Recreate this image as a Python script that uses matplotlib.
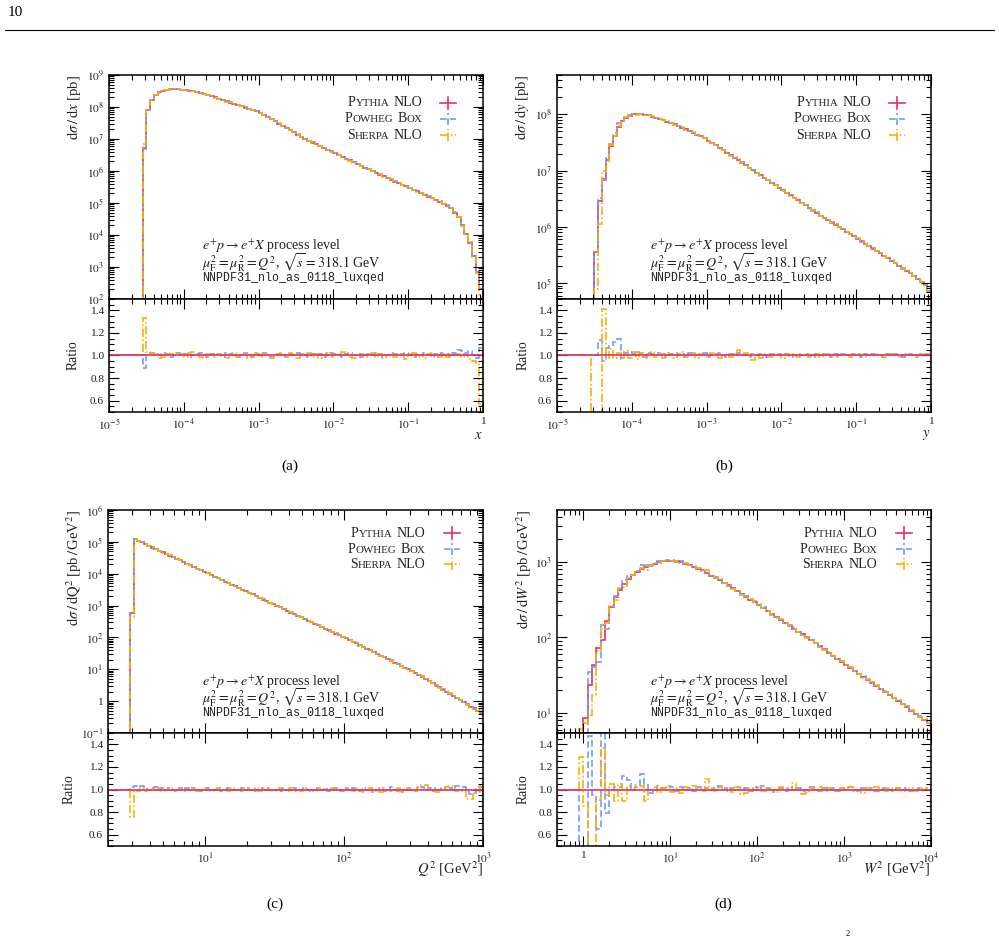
import numpy as np
import matplotlib
matplotlib.use("Agg")
import matplotlib.pyplot as plt
from matplotlib.ticker import LogLocator, MultipleLocator, FuncFormatter, NullFormatter, FormatStrFormatter
from matplotlib.offsetbox import TextArea, HPacker, AnchoredOffsetbox

plt.rcParams["font.family"] = "serif"
plt.rcParams["font.serif"] = ["Liberation Serif", "DejaVu Serif"]
plt.rcParams["mathtext.fontset"] = "stix"

# ---- data (log10 of the Pythia cross section, ratios to Pythia) ----
# (a) d sigma / dx, 20 bins per decade starting at x = 10^-4.55
x_edges = 10 ** np.linspace(-4.55, 0.0, 92)
pythia_x = [6.73, 7.90, 8.22, 8.38, 8.46, 8.51, 8.53, 8.55, 8.55, 8.55,
            8.54, 8.53, 8.51, 8.49, 8.46, 8.43, 8.40, 8.37, 8.33, 8.30,
            8.26, 8.22, 8.18, 8.14, 8.10, 8.06, 8.02, 7.98, 7.94, 7.90,
            7.86, 7.82, 7.75, 7.69, 7.62, 7.55, 7.48, 7.41, 7.34, 7.27,
            7.21, 7.14, 7.07, 7.00, 6.94, 6.89, 6.83, 6.78, 6.72, 6.66,
            6.61, 6.55, 6.50, 6.44, 6.38, 6.33, 6.27, 6.22, 6.16, 6.10,
            6.05, 5.99, 5.94, 5.89, 5.83, 5.78, 5.73, 5.67, 5.62, 5.57,
            5.52, 5.46, 5.41, 5.36, 5.31, 5.25, 5.20, 5.15, 5.10, 5.04,
            4.98, 4.92, 4.84, 4.70, 4.55, 4.30, 4.03, 3.76, 3.35, 2.85,
            2.30]
powheg_x = [0.89, 1.01, 1.02, 1.01, 1.00, 1.02, 1.01, 0.99, 1.01, 1.02,
            1.00, 1.01, 0.99, 1.00, 1.01, 1.02, 1.00, 0.99, 1.01, 1.00,
            1.01, 0.99, 1.02, 1.01, 1.00, 0.99, 1.01, 1.02, 1.00, 0.99,
            1.01, 1.00, 1.02, 1.01, 0.99, 1.00, 1.01, 1.00, 0.99, 1.01,
            1.00, 1.02, 1.01, 1.00, 0.99, 1.01, 1.00, 1.01, 0.99, 1.00,
            1.02, 1.01, 1.00, 0.99, 1.01, 1.02, 1.00, 1.01, 0.99, 1.00,
            1.01, 1.00, 1.02, 1.01, 0.99, 1.00, 1.02, 1.01, 1.00, 1.01,
            1.02, 1.00, 0.99, 1.01, 1.00, 1.02, 1.01, 0.99, 1.01, 1.02,
            1.00, 1.01, 0.99, 1.02, 1.05, 1.04, 1.02, 1.04, 1.00, 0.98,
            1.07]
sherpa_x = [1.33, 1.03, 1.02, 1.01, 0.98, 0.99, 1.02, 1.01, 1.00, 1.02,
            1.01, 0.99, 1.02, 1.03, 1.00, 0.99, 0.98, 1.01, 1.00, 0.99,
            1.01, 1.00, 0.98, 1.01, 1.02, 0.99, 1.00, 1.01, 0.98, 1.00,
            1.02, 0.99, 1.01, 1.00, 0.98, 1.01, 1.02, 1.00, 0.99, 1.02,
            1.01, 0.98, 1.00, 1.01, 1.02, 0.99, 1.01, 0.98, 1.00, 1.02,
            0.99, 1.01, 1.00, 1.03, 1.01, 0.99, 0.98, 1.00, 1.01, 0.99,
            1.00, 1.02, 0.99, 1.01, 0.98, 1.00, 1.02, 0.99, 1.01, 1.00,
            0.97, 1.01, 1.02, 0.99, 1.00, 0.98, 1.01, 1.02, 1.00, 0.99,
            1.01, 0.99, 1.02, 1.00, 1.01, 0.99, 1.00, 0.97, 0.95, 0.93,
            0.57]

# (b) d sigma / dy
y_edges = 10 ** np.linspace(-4.55, 0.0, 92)
pythia_y = [4.30, 5.56, 6.45, 6.85, 7.19, 7.43, 7.62, 7.78, 7.88, 7.93,
            7.97, 8.00, 8.00, 8.00, 7.99, 7.98, 7.96, 7.94, 7.92, 7.90,
            7.87, 7.85, 7.82, 7.79, 7.76, 7.73, 7.70, 7.67, 7.64, 7.61,
            7.57, 7.53, 7.49, 7.45, 7.40, 7.36, 7.31, 7.27, 7.23, 7.18,
            7.14, 7.09, 7.05, 7.01, 6.96, 6.92, 6.87, 6.83, 6.78, 6.74,
            6.69, 6.65, 6.60, 6.56, 6.51, 6.47, 6.42, 6.38, 6.34, 6.29,
            6.25, 6.20, 6.16, 6.12, 6.08, 6.04, 6.00, 5.96, 5.91, 5.87,
            5.83, 5.79, 5.74, 5.70, 5.66, 5.61, 5.57, 5.53, 5.48, 5.44,
            5.40, 5.35, 5.31, 5.26, 5.22, 5.17, 5.12, 5.07, 5.02, 4.96,
            4.86]
powheg_y = [1.00, 1.00, 1.14, 0.95, 1.07, 1.08, 1.12, 1.15, 0.98, 1.02,
            1.03, 1.01, 1.03, 1.02, 0.99, 1.02, 1.01, 1.00, 1.02, 1.01,
            0.99, 1.01, 1.02, 1.00, 1.01, 0.99, 1.02, 1.01, 1.00, 1.01,
            1.02, 0.99, 1.00, 1.01, 1.02, 1.00, 0.99, 1.01, 1.00, 1.02,
            1.01, 1.00, 0.99, 1.01, 1.00, 1.01, 1.00, 0.99, 1.01, 1.00,
            1.01, 1.00, 1.01, 0.99, 1.00, 1.01, 1.00, 1.01, 1.00, 0.99,
            1.01, 1.00, 1.01, 1.00, 0.99, 1.01, 1.00, 1.01, 1.00, 1.00,
            1.01, 1.00, 0.99, 1.01, 1.00, 1.01, 1.00, 1.00, 0.99, 1.01,
            1.00, 1.01, 1.00, 0.99, 1.00, 1.01, 1.00, 1.00, 1.01, 1.00,
            1.01]
sherpa_y = [0.10, 0.22, 0.39, 1.41, 0.97, 1.06, 0.98, 1.02, 0.97, 1.04,
            0.98, 1.03, 0.97, 1.02, 0.98, 1.01, 1.03, 0.99, 1.01, 0.98,
            1.02, 1.00, 0.98, 1.01, 1.03, 0.99, 1.00, 1.02, 0.98, 1.01,
            1.00, 0.99, 1.02, 1.01, 0.98, 1.00, 1.00, 0.99, 1.01, 1.05,
            1.00, 1.02, 0.99, 0.96, 1.00, 0.98, 1.01, 1.00, 0.99, 1.01,
            1.00, 0.98, 1.01, 1.00, 1.01, 0.99, 1.00, 1.01, 0.99, 1.00,
            1.01, 0.99, 1.00, 1.01, 1.00, 0.99, 1.00, 1.01, 1.00, 0.99,
            1.00, 1.01, 1.00, 0.99, 1.00, 1.00, 1.01, 1.00, 0.99, 1.00,
            1.01, 1.00, 0.99, 1.00, 1.01, 1.00, 1.00, 0.99, 1.00, 1.01,
            1.00]

# (c) d sigma / dQ^2, finer binning (about 40 per decade)
q2_edges = 10 ** np.linspace(0.46, 3.0, 103)
pythia_q2 = [2.77, 5.08, 5.03, 4.98, 4.93, 4.88, 4.82, 4.77, 4.72, 4.67,
             4.62, 4.57, 4.52, 4.47, 4.42, 4.37, 4.31, 4.26, 4.21, 4.16,
             4.11, 4.06, 4.01, 3.96, 3.91, 3.86, 3.80, 3.75, 3.70, 3.65,
             3.60, 3.55, 3.50, 3.45, 3.40, 3.35, 3.29, 3.24, 3.19, 3.14,
             3.09, 3.04, 2.99, 2.94, 2.89, 2.84, 2.78, 2.73, 2.68, 2.63,
             2.58, 2.53, 2.48, 2.43, 2.38, 2.33, 2.27, 2.22, 2.17, 2.12,
             2.07, 2.02, 1.97, 1.92, 1.86, 1.81, 1.75, 1.70, 1.64, 1.59,
             1.54, 1.48, 1.43, 1.38, 1.32, 1.27, 1.21, 1.16, 1.11, 1.05,
             1.00, 0.94, 0.89, 0.82, 0.76, 0.69, 0.63, 0.56, 0.49, 0.43,
             0.36, 0.30, 0.23, 0.16, 0.10, 0.03, -0.03, -0.10, -0.17, -0.23,
             -0.30, -0.36]
powheg_q2 = [1.02, 1.03, 1.02, 1.03, 1.01, 1.00, 1.01, 1.02, 1.00, 1.01,
             1.00, 1.01, 1.00, 0.99, 1.01, 1.00, 1.01, 1.00, 1.01, 1.00,
             0.99, 1.00, 1.01, 1.00, 1.00, 1.01, 0.99, 1.00, 1.01, 1.00,
             1.00, 0.99, 1.01, 1.00, 1.01, 1.00, 0.99, 1.00, 1.01, 1.00,
             1.01, 1.00, 1.00, 0.99, 1.01, 1.00, 1.00, 1.01, 0.99, 1.00,
             1.01, 1.00, 0.99, 1.00, 1.01, 1.00, 1.01, 0.99, 1.00, 1.01,
             1.00, 0.99, 1.01, 1.00, 1.01, 1.00, 0.99, 1.01, 1.00, 1.01,
             0.98, 1.00, 1.01, 0.99, 1.00, 1.02, 1.00, 0.99, 0.98, 1.00,
             1.01, 1.00, 0.99, 1.01, 1.02, 1.00, 1.01, 0.99, 1.01, 1.00,
             1.02, 1.00, 1.01, 1.00, 1.03, 1.03, 1.02, 1.00, 0.96, 0.97,
             1.02, 1.02]
sherpa_q2 = [0.76, 1.00, 0.99, 1.01, 0.99, 1.00, 1.01, 1.00, 1.01, 0.99,
             1.00, 1.01, 1.00, 1.00, 1.01, 0.99, 1.00, 1.01, 1.00, 0.99,
             1.00, 1.01, 1.00, 0.99, 1.00, 1.01, 1.00, 1.00, 0.99, 1.01,
             1.00, 1.00, 0.99, 1.01, 1.00, 1.00, 1.01, 0.99, 1.00, 1.01,
             1.00, 0.99, 1.00, 1.01, 1.00, 0.99, 1.01, 1.00, 1.00, 0.99,
             1.01, 1.00, 1.00, 0.99, 1.01, 1.00, 0.99, 1.00, 1.01, 1.00,
             0.99, 1.00, 1.01, 1.00, 0.99, 1.01, 1.00, 0.98, 1.00, 1.01,
             0.99, 1.00, 0.98, 1.01, 1.00, 0.99, 1.00, 1.01, 0.98, 1.00,
             1.01, 1.00, 0.99, 1.02, 1.04, 1.04, 1.00, 0.99, 0.98, 0.98,
             1.00, 1.02, 1.03, 1.03, 0.99, 0.99, 1.00, 0.92, 0.92, 0.96,
             0.98, 1.05]

# (d) d sigma / dW^2
w2_edges = 10 ** np.linspace(-0.10, 4.0, 83)
pythia_w2 = [0.30, 0.68, 0.93, 1.37, 1.63, 1.86, 1.97, 2.22, 2.40, 2.54,
             2.63, 2.71, 2.78, 2.83, 2.87, 2.91, 2.94, 2.96, 2.98, 3.00,
             3.01, 3.02, 3.02, 3.01, 3.00, 2.98, 2.96, 2.94, 2.91, 2.89,
             2.86, 2.82, 2.79, 2.76, 2.72, 2.69, 2.65, 2.61, 2.58, 2.54,
             2.50, 2.47, 2.43, 2.39, 2.35, 2.31, 2.27, 2.23, 2.19, 2.15,
             2.11, 2.07, 2.04, 2.00, 1.96, 1.92, 1.88, 1.84, 1.80, 1.76,
             1.72, 1.68, 1.64, 1.60, 1.56, 1.52, 1.48, 1.44, 1.40, 1.36,
             1.32, 1.28, 1.24, 1.20, 1.16, 1.12, 1.08, 1.03, 0.99, 0.95,
             0.91, 0.86]
powheg_w2 = [1.00, 0.40, 0.45, 1.47, 0.95, 0.65, 1.55, 0.79, 1.00, 1.02,
             1.02, 1.12, 1.08, 1.00, 1.02, 1.14, 1.05, 0.97, 1.00, 1.03,
             1.01, 1.03, 1.02, 0.99, 1.02, 1.00, 1.01, 0.99, 1.02, 1.00,
             1.01, 1.00, 1.02, 1.03, 1.01, 0.99, 1.01, 1.02, 1.00, 1.01,
             0.99, 1.02, 1.00, 1.03, 1.01, 0.98, 1.00, 1.01, 0.99, 1.02,
             1.00, 1.01, 0.99, 1.00, 1.02, 1.00, 0.99, 1.01, 1.00, 1.01,
             0.99, 1.01, 1.00, 1.02, 1.00, 0.99, 1.01, 1.00, 1.01, 0.99,
             1.00, 1.01, 1.00, 0.99, 1.01, 1.00, 1.01, 0.99, 1.00, 1.01,
             1.00, 1.01]
sherpa_w2 = [1.00, 1.29, 0.85, 0.40, 0.40, 0.91, 1.37, 0.95, 1.05, 0.90,
             1.05, 0.90, 1.03, 1.00, 1.04, 1.03, 0.90, 1.00, 1.02, 0.98,
             1.01, 1.02, 0.98, 1.01, 0.97, 1.02, 1.00, 1.03, 1.01, 0.99,
             1.09, 1.01, 0.99, 1.02, 1.00, 1.01, 0.98, 1.02, 0.96, 0.97,
             1.01, 1.00, 1.02, 0.99, 1.01, 1.00, 0.98, 1.02, 1.01, 1.00,
             1.06, 1.00, 0.96, 0.97, 1.01, 1.00, 1.02, 0.99, 1.01, 1.00,
             0.99, 1.01, 1.00, 1.02, 0.99, 1.00, 0.97, 1.01, 1.00, 1.02,
             1.00, 0.99, 1.01, 1.00, 1.01, 0.99, 1.00, 1.01, 0.99, 1.00,
             1.01, 1.00]

generators = [[("P", "ythia"), ("NLO", "")],
              [("P", "owheg"), ("B", "ox")],
              [("S", "herpa"), ("NLO", "")]]

# ---- style ----
C_PY = "#e6306f"
C_PW = "#6e9cff"
C_SH = "#ffae00"
STYLES = [dict(color=C_PY, lw=1.2, ls="-"),
          dict(color=C_PW, lw=1.2, ls=(0, (4, 2))),
          dict(color=C_SH, lw=1.2, ls=(0, (5, 1.5, 1, 1.5)))]
TXT = "#222222"

W, H = 999, 938
fig = plt.figure(figsize=(W / 100, H / 100), dpi=100)


def box(l, r, t, b):
    return [l / W, 1 - b / H, (r - l) / W, (b - t) / H]


def log_fmt(v, pos):
    n = int(round(np.log10(v)))
    return "1" if n == 0 else r"$10^{%d}$" % n


def style_axis(ax):
    for s in ax.spines.values():
        s.set_linewidth(1.1)
    ax.tick_params(which="both", direction="in", top=True, right=True,
                   labelsize=8.2, labelcolor=TXT, width=0.8)
    ax.tick_params(which="major", length=7)
    ax.tick_params(which="minor", length=3.5)


def small_caps(pairs, big=10.0, small=7.8):
    words = []
    for head, tail in pairs:
        parts = [TextArea(head, textprops=dict(fontsize=big, color=TXT))]
        if tail:
            parts.append(TextArea(tail.upper(), textprops=dict(fontsize=small, color=TXT)))
        words.append(HPacker(children=parts, align="baseline", pad=0, sep=0))
    return HPacker(children=words, align="baseline", pad=0, sep=3)


def panel(pos_main, pos_ratio, edges, py_log, pw_r, sh_r, xlim, ylim, ylabel,
          xlabel, leg_x, cross_x, leg_y, txt_x, txt_y, ylab_x, rlab_x):
    axm = fig.add_axes(box(*pos_main))
    axr = fig.add_axes(box(*pos_ratio))
    py = 10 ** np.array(py_log)
    pw = py * np.array(pw_r)
    sh = py * np.array(sh_r)
    for vals, st in zip([py, pw, sh], STYLES):
        axm.stairs(vals, edges, baseline=1e-30, **st)
    axm.set_xscale("log")
    axm.set_yscale("log")
    axm.set_xlim(*xlim)
    axm.set_ylim(*ylim)
    # ratio panel, lines at 1 continue to the left edge
    r_edges = np.concatenate([[xlim[0]], edges])
    for r, st in zip([pw_r, sh_r], STYLES[1:]):
        axr.stairs(np.concatenate([[1.0], r]), r_edges, **st)
    axr.axhline(1.0, **STYLES[0])
    axr.set_xscale("log")
    axr.set_xlim(*xlim)
    axr.set_ylim(0.5, 1.5)

    for ax in (axm, axr):
        style_axis(ax)
        ax.xaxis.set_major_locator(LogLocator(base=10, numticks=20))
        ax.xaxis.set_minor_locator(LogLocator(base=10, subs=np.arange(2, 10), numticks=100))
        ax.xaxis.set_minor_formatter(NullFormatter())
    axm.yaxis.set_major_locator(LogLocator(base=10, numticks=20))
    axm.yaxis.set_minor_locator(LogLocator(base=10, subs=np.arange(2, 10), numticks=100))
    axm.yaxis.set_major_formatter(FuncFormatter(log_fmt))
    axm.yaxis.set_minor_formatter(NullFormatter())
    axm.tick_params(labelbottom=False)
    axr.xaxis.set_major_formatter(FuncFormatter(log_fmt))
    axr.yaxis.set_minor_locator(MultipleLocator(0.05))
    axr.yaxis.set_major_formatter(FormatStrFormatter("%.1f"))
    axr.set_yticks([0.6, 0.8, 1.0, 1.2, 1.4])

    # y label sits at the top of the main panel
    axm.text(ylab_x, 1.0, ylabel, transform=axm.transAxes, rotation=90,
             ha="center", va="top", fontsize=10.5, color=TXT)
    axr.text(rlab_x, 0.5, "Ratio", transform=axr.transAxes, rotation=90,
             ha="center", va="center", fontsize=9.8, color=TXT)
    axr.text(1.0, -0.205, xlabel, transform=axr.transAxes, ha="right",
             va="center", fontsize=10.5, color=TXT)

    # legend with small caps names and line-style crosses
    for i, (pairs, st) in enumerate(zip(generators, STYLES)):
        yy = leg_y[i]
        ab = AnchoredOffsetbox(loc="center right", child=small_caps(pairs), pad=0,
                               borderpad=0, frameon=False, bbox_to_anchor=(leg_x, yy),
                               bbox_transform=axm.transAxes)
        axm.add_artist(ab)
        axm.plot([cross_x - 0.022, cross_x + 0.022], [yy, yy], transform=axm.transAxes,
                 clip_on=False, **st)
        axm.plot([cross_x, cross_x], [yy - 0.026, yy + 0.026], transform=axm.transAxes,
                 clip_on=False, **st)

    axm.text(txt_x, txt_y[0], r"$e^{+}p \rightarrow e^{+}X$ process level",
             transform=axm.transAxes, fontsize=10.1, va="center", color=TXT)
    axm.text(txt_x, txt_y[1],
             r"$\mu_{\mathrm{F}}^{2} = \mu_{\mathrm{R}}^{2} = Q^{2}$, $\sqrt{s} = 318.1$ GeV",
             transform=axm.transAxes, fontsize=10.1, va="center", color=TXT)
    axm.text(txt_x, txt_y[2], "NNPDF31_nlo_as_0118_luxqed", family="Liberation Mono",
             transform=axm.transAxes, fontsize=8.4, va="center", color=TXT)
    return axm, axr


panel((109, 483, 75, 299), (109, 483, 299, 412), x_edges, pythia_x, powheg_x, sherpa_x,
      (1e-5, 1.0), (1e2, 1e9), r"$\mathrm{d}\sigma\,/\,\mathrm{d}x$ [pb]", r"$x$",
      0.838, 0.906, [0.875, 0.804, 0.732], 0.249, [0.234, 0.161, 0.092], -0.094, -0.095)
panel((557, 931, 75, 299), (557, 931, 299, 412), y_edges, pythia_y, powheg_y, sherpa_y,
      (1e-5, 1.0), (5.2e4, 5e8), r"$\mathrm{d}\sigma\,/\,\mathrm{d}y$ [pb]", r"$y$",
      0.840, 0.909, [0.875, 0.804, 0.732], 0.249, [0.234, 0.161, 0.092], -0.094, -0.090)
panel((108, 483, 510, 733), (108, 483, 733, 846), q2_edges, pythia_q2, powheg_q2, sherpa_q2,
      (2.0, 1e3), (1e-1, 1e6), r"$\mathrm{d}\sigma\,/\,\mathrm{dQ}^{2}$ [pb$\,/\,$GeV$^{2}$]",
      r"$Q^{2}$ [GeV$^{2}$]",
      0.846, 0.917, [0.896, 0.824, 0.757], 0.250, [0.227, 0.158, 0.088], -0.090, -0.104)
panel((557, 931, 510, 733), (557, 931, 733, 846), w2_edges, pythia_w2, powheg_w2, sherpa_w2,
      (0.5, 1e4), (5.4, 4.9e3), r"$\mathrm{d}\sigma\,/\,\mathrm{d}W^{2}$ [pb$\,/\,$GeV$^{2}$]",
      r"$W^{2}$ [GeV$^{2}$]",
      0.857, 0.928, [0.896, 0.824, 0.757], 0.249, [0.227, 0.158, 0.088], -0.088, -0.090)

# page decorations and sub-captions
fig.text(8 / W, 1 - 13 / H, "10", fontsize=11, va="center", ha="left")
fig.add_artist(plt.Line2D([5 / W, 994 / W], [1 - 30 / H, 1 - 30 / H], color="black", lw=0.8))
for lab, cx, cy in [("(a)", 290, 466), ("(b)", 724, 466), ("(c)", 275, 904), ("(d)", 723, 904)]:
    fig.text(cx / W, 1 - cy / H, lab, fontsize=11, ha="center", va="center")
fig.text(848 / W, 1 - 934 / H, "2", fontsize=6, ha="center", va="center")

fig.savefig("out.png", dpi=100)
